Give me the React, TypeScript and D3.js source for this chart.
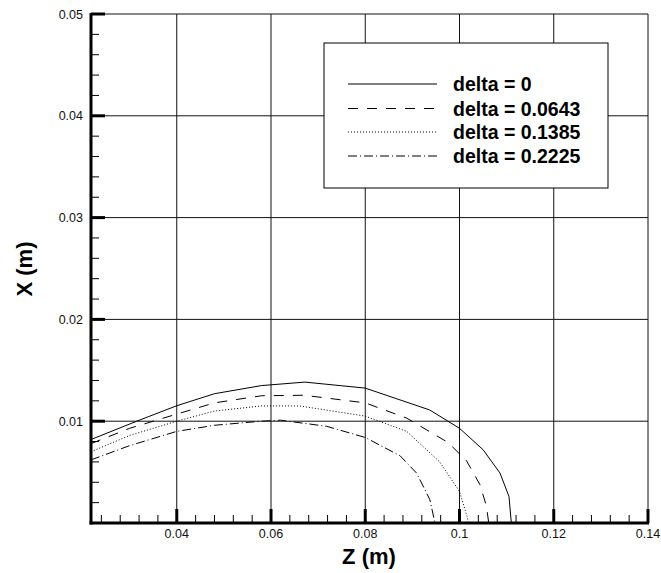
import React, { useEffect, useRef } from 'react';
import * as d3 from 'd3';

// curve data: [Z, X] in metres
const seriesNames = ['delta = 0', 'delta = 0.0643', 'delta = 0.1385', 'delta = 0.2225'];
const delta0: [number, number][] = [
  [0.0218, 0.0082], [0.0315, 0.0100], [0.040, 0.01152], [0.048, 0.0127], [0.058, 0.0135],
  [0.0672, 0.01384], [0.080, 0.01325], [0.0937, 0.0111], [0.100, 0.0093], [0.105, 0.0072],
  [0.1086, 0.0049], [0.1105, 0.0026], [0.111, 0.0],
];
const delta0643: [number, number][] = [
  [0.0218, 0.0078], [0.030, 0.0093], [0.040, 0.0107], [0.048, 0.0118], [0.058, 0.0125],
  [0.067, 0.01255], [0.080, 0.0118], [0.0888, 0.0103], [0.0976, 0.0079], [0.1015, 0.0061],
  [0.1043, 0.0038], [0.1057, 0.0017], [0.1062, 0.0],
];
const delta1385: [number, number][] = [
  [0.0218, 0.0070], [0.030, 0.0086], [0.040, 0.0100], [0.048, 0.0110], [0.058, 0.0115],
  [0.066, 0.0115], [0.080, 0.0105], [0.0888, 0.0090], [0.0958, 0.0060], [0.100, 0.0031],
  [0.1017, 0.0005], [0.1019, 0.0],
];
const delta2225: [number, number][] = [
  [0.0218, 0.0062], [0.030, 0.0076], [0.040, 0.0090], [0.048, 0.0096], [0.058, 0.0100],
  [0.062, 0.0101], [0.0718, 0.0095], [0.080, 0.0084], [0.0874, 0.0066], [0.0909, 0.0049],
  [0.0937, 0.0023], [0.0948, 0.0],
];
const allSeries = [delta0, delta0643, delta1385, delta2225];
const dashes = ['none', '10,9', '1,2', '9,3,1,3'];

const xTicks = [0.04, 0.06, 0.08, 0.1, 0.12, 0.14];
const xTickLabels = ['0.04', '0.06', '0.08', '0.1', '0.12', '0.14'];
const yTicks = [0.01, 0.02, 0.03, 0.04, 0.05];
const yTickLabels = ['0.01', '0.02', '0.03', '0.04', '0.05'];

const App = () => {
  const ref = useRef<SVGSVGElement>(null);

  useEffect(() => {
    const svg = d3.select(ref.current);
    svg.selectAll('*').remove();
    const left = 91, right = 648, top = 14, bottom = 523;
    const font = 'Liberation Sans, Arial, sans-serif';

    const x = d3.scaleLinear().domain([0.0218, 0.14]).range([left, right]);
    const y = d3.scaleLinear().domain([0, 0.05]).range([bottom, top]);

    // grid
    svg.append('g').selectAll('line').data(xTicks).enter().append('line')
      .attr('x1', d => x(d)).attr('x2', d => x(d)).attr('y1', top).attr('y2', bottom)
      .attr('stroke', '#111').attr('stroke-width', 1);
    svg.append('g').selectAll('line').data(yTicks).enter().append('line')
      .attr('x1', left).attr('x2', right).attr('y1', d => y(d)).attr('y2', d => y(d))
      .attr('stroke', '#111').attr('stroke-width', 1);

    // curves
    const line = d3.line<[number, number]>().x(d => x(d[0])).y(d => y(d[1]));
    allSeries.forEach((s, i) => {
      svg.append('path').datum(s).attr('d', line).attr('fill', 'none')
        .attr('stroke', '#000').attr('stroke-width', 1)
        .attr('stroke-dasharray', dashes[i]);
    });

    // minor ticks
    const xMinor = d3.range(0.024, 0.1401, 0.004).filter(v => !xTicks.some(t => Math.abs(t - v) < 1e-6));
    svg.append('g').selectAll('line').data(xMinor).enter().append('line')
      .attr('x1', d => x(d)).attr('x2', d => x(d)).attr('y1', bottom).attr('y2', bottom - 8)
      .attr('stroke', '#000').attr('stroke-width', 1);
    const yMinor = d3.range(0.002, 0.0501, 0.002).filter(v => !yTicks.some(t => Math.abs(t - v) < 1e-6));
    svg.append('g').selectAll('line').data(yMinor).enter().append('line')
      .attr('x1', left).attr('x2', left + 8).attr('y1', d => y(d)).attr('y2', d => y(d))
      .attr('stroke', '#000').attr('stroke-width', 1);

    // major ticks
    svg.append('g').selectAll('line').data(xTicks).enter().append('line')
      .attr('x1', d => x(d)).attr('x2', d => x(d)).attr('y1', bottom).attr('y2', bottom - 14)
      .attr('stroke', '#000').attr('stroke-width', 3);
    svg.append('g').selectAll('line').data(yTicks).enter().append('line')
      .attr('x1', left).attr('x2', left + 14).attr('y1', d => y(d)).attr('y2', d => y(d))
      .attr('stroke', '#000').attr('stroke-width', 3);

    // axis lines
    svg.append('line').attr('x1', left).attr('x2', left).attr('y1', top - 1).attr('y2', bottom + 1.5)
      .attr('stroke', '#000').attr('stroke-width', 3);
    svg.append('line').attr('x1', left - 1.5).attr('x2', right + 1).attr('y1', bottom).attr('y2', bottom)
      .attr('stroke', '#000').attr('stroke-width', 3);

    // tick labels
    svg.append('g').selectAll('text').data(xTicks).enter().append('text')
      .attr('x', d => x(d)).attr('y', 538).attr('text-anchor', 'middle')
      .attr('font-family', font).attr('font-size', 12.5).attr('fill', '#111')
      .text((d, i) => xTickLabels[i]);
    svg.append('g').selectAll('text').data(yTicks).enter().append('text')
      .attr('x', 83).attr('y', d => y(d) + 4.5).attr('text-anchor', 'end')
      .attr('font-family', font).attr('font-size', 12.5).attr('fill', '#111')
      .text((d, i) => yTickLabels[i]);

    // axis titles
    svg.append('text').attr('x', 369).attr('y', 564).attr('text-anchor', 'middle')
      .attr('font-family', font).attr('font-size', 22).attr('font-weight', 'bold')
      .text('Z (m)');
    svg.append('text').attr('transform', 'translate(32,269) rotate(-90)').attr('text-anchor', 'middle')
      .attr('font-family', font).attr('font-size', 22).attr('font-weight', 'bold')
      .text('X (m)');

    // legend
    const lg = svg.append('g');
    lg.append('rect').attr('x', 324).attr('y', 43).attr('width', 284).attr('height', 145)
      .attr('fill', '#fff').attr('stroke', '#000').attr('stroke-width', 1);
    const rowsY = [84, 108.5, 132, 156];
    seriesNames.forEach((name, i) => {
      lg.append('line').attr('x1', 348).attr('x2', 437).attr('y1', rowsY[i]).attr('y2', rowsY[i])
        .attr('stroke', '#000').attr('stroke-width', 1).attr('stroke-dasharray', dashes[i]);
      lg.append('text').attr('x', 453).attr('y', rowsY[i] + 7).attr('font-family', font)
        .attr('font-size', 19.5).attr('font-weight', 'bold').text(name);
    });
  }, []);

  return (
    <svg ref={ref} width={661} height={573}
      style={{ position: 'absolute', left: 0, top: 0, background: '#fff' }} />
  );
};

export default App;
